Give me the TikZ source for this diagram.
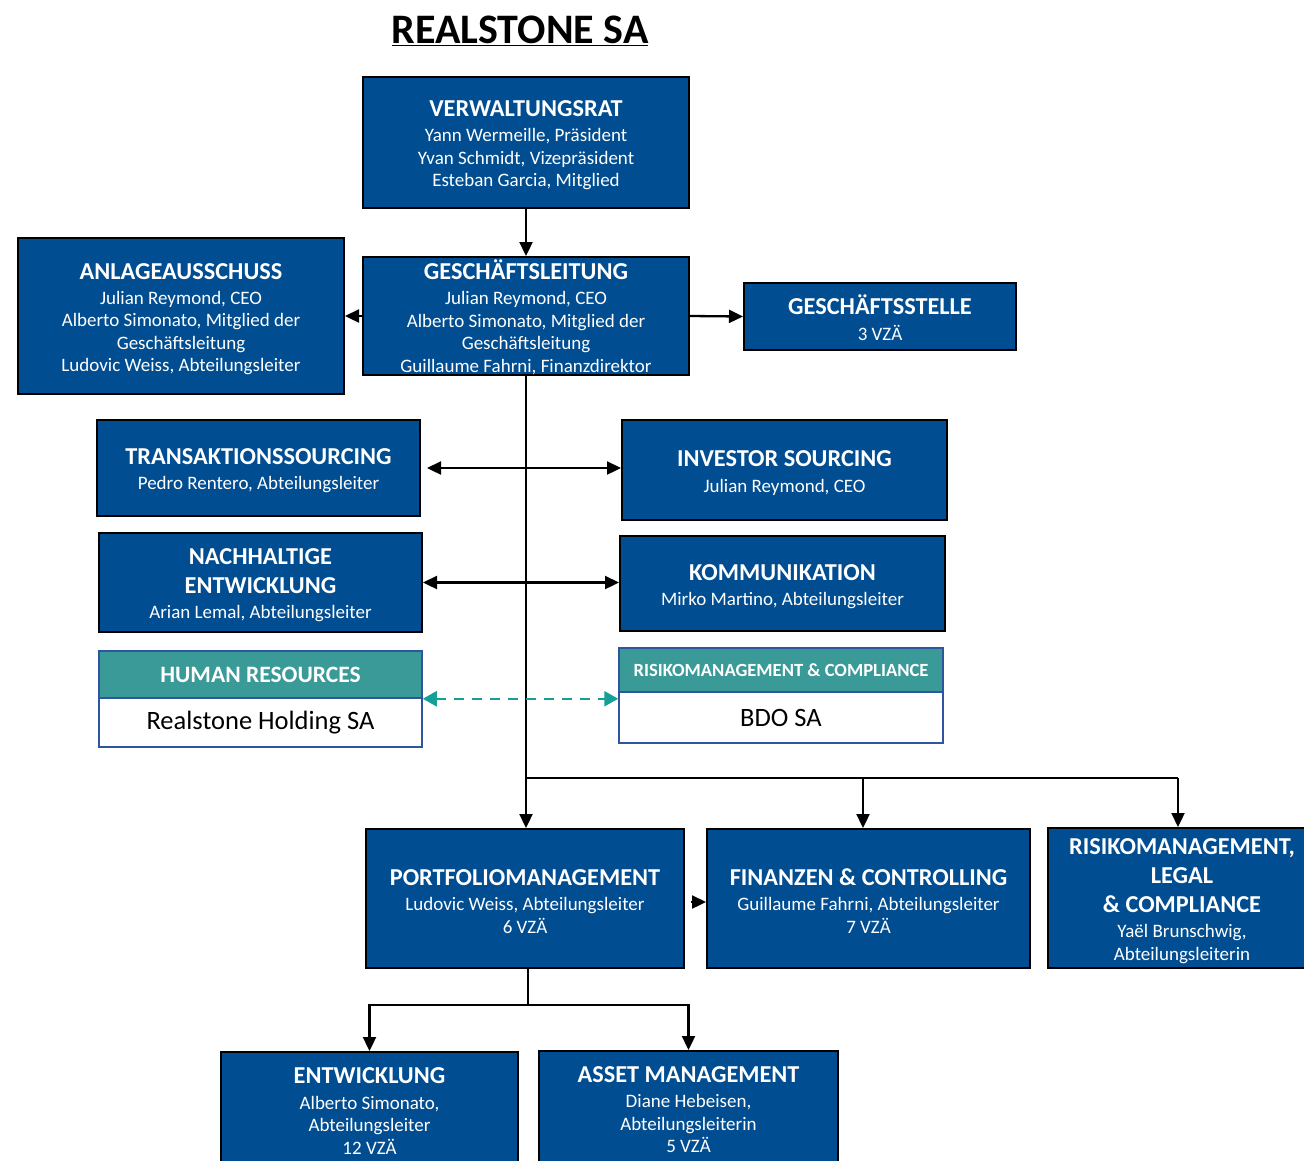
\documentclass[tikz,border=0pt]{standalone}
\usepackage{fontspec}
\setmainfont{Carlito}
\usetikzlibrary{arrows.meta}
\definecolor{boxblue}{RGB}{0,77,145}
\definecolor{tealhead}{RGB}{58,154,152}
\definecolor{dashteal}{RGB}{20,160,150}
\definecolor{wborder}{RGB}{47,85,160}
\newcommand\hdx{\fontsize{24.3}{29}\selectfont\bfseries}
\newcommand\hd{\hdx\rule{0pt}{22pt}}
\newcommand\bd{\fontsize{19}{22.5}\selectfont}
\newcommand\orgnode[6]{\node[orgbox, minimum width={#4-#2}, minimum height={#5-#3}] (#1) at ({(#2+#4)/2},{(#3+#5)/2}) {#6};}
\begin{document}
\begin{tikzpicture}[x=1pt,y=-1pt,
  orgbox/.style={draw=black, line width=2pt, fill=boxblue, text=white, align=center, inner sep=0pt, font=\bd},
  headbox/.style={draw=wborder, line width=1.5pt, fill=tealhead, text=white, inner sep=0pt, font=\bfseries},
  bodybox/.style={draw=wborder, line width=1.5pt, fill=white, text=black, inner sep=0pt},
  conn/.style={line width=2.3pt, -{Triangle[length=14pt,width=13pt]}},
  dconn/.style={line width=2.3pt, {Triangle[length=14pt,width=13pt]}-{Triangle[length=14pt,width=13pt]}},
  plain/.style={line width=2.3pt},
  dashconn/.style={line width=2.5pt, dash pattern=on 10pt off 8pt, color=dashteal, {Triangle[length=14pt,width=15pt]}-{Triangle[length=14pt,width=15pt]}}]
\useasboundingbox (0,0) rectangle (1304,1160);
\clip (0,0) rectangle (1304,1160);

\node[font=\fontsize{42}{50}\selectfont\bfseries, inner sep=0pt] (title) at (520,31) {\underline{REALSTONE SA}};

\orgnode{vr}{363}{77}{689}{208}{{\hd VERWALTUNGSRAT}\\[2.7pt]Yann Wermeille, Präsident\\Yvan Schmidt, Vizepräsident\\Esteban Garcia, Mitglied}
\orgnode{gl}{363}{257}{689}{375}{{\hd GESCHÄFTSLEITUNG}\\[2.7pt]Julian Reymond, CEO\\Alberto Simonato, Mitglied der\\Geschäftsleitung\\Guillaume Fahrni, Finanzdirektor}
\orgnode{an}{18}{238}{344}{394}{{\hd ANLAGEAUSSCHUSS}\\[2.7pt]Julian Reymond, CEO\\Alberto Simonato, Mitglied der\\Geschäftsleitung\\Ludovic Weiss, Abteilungsleiter}
\orgnode{gs}{744}{283}{1016}{350}{{\hd GESCHÄFTSSTELLE}\\[2.7pt]3 VZÄ}
\orgnode{ts}{97}{420}{420}{516}{{\hd TRANSAKTIONSSOURCING}\\[2.7pt]Pedro Rentero, Abteilungsleiter}
\orgnode{is}{622}{420}{947}{520}{{\hd INVESTOR SOURCING}\\[2.7pt]Julian Reymond, CEO}
\orgnode{ne}{99}{533}{422}{632}{{\hd NACHHALTIGE}\\[6.5pt]{\hdx ENTWICKLUNG}\\[2.7pt]Arian Lemal, Abteilungsleiter}
\orgnode{ko}{620}{536}{945}{631}{{\hd KOMMUNIKATION}\\[2.7pt]Mirko Martino, Abteilungsleiter}

\node[headbox, minimum width=323, minimum height=47, font=\fontsize{23.5}{26}\selectfont\bfseries] (hrh) at (260.5,674.5) {HUMAN RESOURCES};
\node[bodybox, minimum width=323, minimum height=49, font=\fontsize{26.5}{30}\selectfont] (hrb) at (260.5,722.5) {Realstone Holding SA};
\node[headbox, minimum width=324, minimum height=44, font=\fontsize{18.6}{21}\selectfont\bfseries] (rch) at (781,670) {RISIKOMANAGEMENT \& COMPLIANCE};
\node[bodybox, minimum width=324, minimum height=51, font=\fontsize{26.5}{30}\selectfont] (rcb) at (781,717.5) {BDO SA};

\orgnode{pm}{366}{829}{684}{968}{{\hd PORTFOLIOMANAGEMENT}\\[2.7pt]Ludovic Weiss, Abteilungsleiter\\6 VZÄ}
\orgnode{fc}{707}{829}{1030}{968}{{\hd FINANZEN \& CONTROLLING}\\[2.7pt]Guillaume Fahrni, Abteilungsleiter\\7 VZÄ}
\orgnode{rl}{1048}{828}{1316}{968}{{\hd RISIKOMANAGEMENT,}\\[6.5pt]{\hdx LEGAL}\\[6.5pt]{\hdx \& COMPLIANCE}\\[2.7pt]Yaël Brunschwig,\\Abteilungsleiterin}
\orgnode{en}{221}{1052}{518}{1164}{{\hd ENTWICKLUNG}\\[2.7pt]Alberto Simonato,\\Abteilungsleiter\\12 VZÄ}
\orgnode{am}{539}{1051}{838}{1162}{{\hd ASSET MANAGEMENT}\\[2.7pt]Diane Hebeisen,\\Abteilungsleiterin\\5 VZÄ}

\draw[conn] (vr.south) -- (gl.north);
\draw[conn] (gl.west) -- (an.east);
\draw[conn] (gl.east) -- (gs.west);
\draw[conn] (gl.south) -- (gl.south |- pm.north);
\draw[dconn, shorten <=6pt] (ts.east) -- (ts.east -| is.west);
\draw[dconn] (ne.east) -- (ne.east -| ko.west);
\draw[dashconn] (hrh.south east) -- (hrh.south east -| rcb.west);

\coordinate (j) at (526,778);
\coordinate (b1) at (863,778);
\coordinate (b2) at (1178,778);
\draw[plain] (j) -- (b2);
\draw[conn] (b1) -- (b1 |- fc.north);
\draw[conn] (b2) -- (b2 |- rl.north);
\draw[conn, shorten <=6pt] (pm.east |- 0,902) -- (fc.west |- 0,902);

\coordinate (q) at (528,1005);
\draw[plain] (528,968) -- (q);
\draw[conn] (q) -| (en.north);
\draw[conn] (q) -| (am.north);
\end{tikzpicture}
\end{document}
